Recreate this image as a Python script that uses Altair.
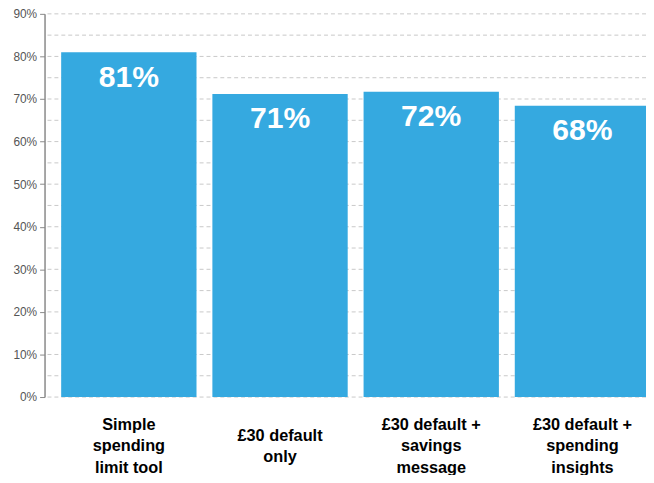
import altair as alt
import pandas as pd

categories = ["Simple\nspending\nlimit tool", "£30 default\nonly",
              "£30 default +\nsavings\nmessage", "£30 default +\nspending\ninsights"]
values = [81.0, 71.2, 71.7, 68.4]
labels = ["81%", "71%", "72%", "68%"]
grid_values = list(range(0, 95, 5))
tick_values = list(range(0, 100, 10))

df = pd.DataFrame({"cat": categories, "value": values, "label": labels})
gdf = pd.DataFrame({"g": grid_values})

BLUE = "#35a9e0"
LINE_H = 22
BLOCK_CENTER = 438
xscale = alt.Scale(domain=categories, range=[0, 630], paddingInner=0.105, paddingOuter=0.11)
yscale = alt.Scale(domain=[0, 90], nice=False)

yaxis = alt.Axis(values=tick_values, grid=False, title=None,
                 labelExpr="datum.value + '%'",
                 domainColor="#888888", domainWidth=1.5,
                 tickColor="#888888", tickSize=5, tickWidth=1,
                 labelColor="#555555", labelFontSize=12,
                 labelFont="Liberation Sans", labelPadding=3)

grid = alt.Chart(gdf).mark_rule(strokeDash=[4, 3], color="#c8c8c8", strokeWidth=1).encode(
    y=alt.Y("g:Q", scale=yscale, axis=yaxis)
)

xenc = alt.X("cat:N", scale=xscale, sort=categories, axis=None)

bars = alt.Chart(df).mark_bar(color=BLUE, clip=True).encode(
    x=xenc,
    y=alt.Y("value:Q", scale=yscale),
)

bar_text = alt.Chart(df).mark_text(color="white", fontWeight="bold", fontSize=30.5,
                                   font="Liberation Sans", baseline="alphabetic",
                                   dy=35, clip=True).encode(
    x=xenc,
    y=alt.Y("value:Q", scale=yscale),
    text="label:N",
)

cat_text = alt.Chart(df).transform_calculate(
    ly=f"{BLOCK_CENTER} - (length(split(datum.cat, '\\n')) - 1) * {LINE_H} / 2"
).mark_text(color="black", fontWeight="bold", fontSize=16.5,
            font="Liberation Sans", baseline="middle",
            lineBreak="\n", lineHeight=LINE_H).encode(
    x=xenc,
    y=alt.Y("ly:Q", scale=None),
    text="cat:N",
)

chart = alt.layer(grid, bars, bar_text, cat_text).properties(
    width=609, height=388,
    padding={"left": 37, "top": 3, "right": 0, "bottom": 76},
    autosize=alt.AutoSizeParams(type="none"),
).configure_view(stroke=None)

chart.save("out.html", embed_options={"renderer": "svg", "actions": False})
